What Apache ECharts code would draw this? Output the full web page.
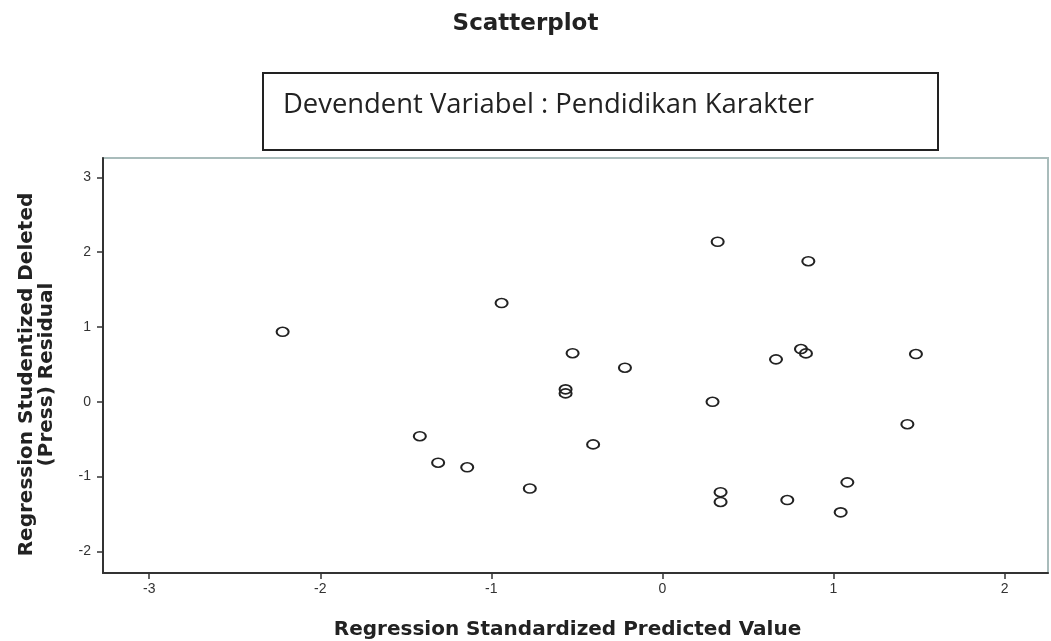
<!DOCTYPE html>
<html>
<head>
<meta charset="utf-8">
<script src="https://cdn.jsdelivr.net/npm/echarts@6/dist/echarts.min.js"></script>
<style>
html,body{margin:0;padding:0;background:#fff;}
#chart{width:1051px;height:641px;}
</style>
</head>
<body>
<div id="chart"></div>
<script>
// Data
const predictedValue = [-2.22, -0.94, -0.525, -0.566, -0.566, -0.219, 0.293, -1.418, -1.311, -1.141, -0.405, -0.775,
  0.323, 0.853, 0.664, 0.81, 0.839, 1.482, 1.432, 0.34, 0.34, 0.73, 1.081, 1.042];
const deletedResidual = [0.936, 1.32, 0.65, 0.166, 0.112, 0.455, 0.0, -0.46, -0.815, -0.877, -0.57, -1.16,
  2.14, 1.88, 0.567, 0.705, 0.647, 0.638, -0.30, -1.21, -1.34, -1.314, -1.078, -1.479];
const xTicks = [-3, -2, -1, 0, 1, 2];
const yTicks = [-2, -1, 0, 1, 2, 3];

const chartTitle = 'Scatterplot';
const subTitle = 'Devendent Variabel : Pendidikan Karakter';
const xName = 'Regression Standardized Predicted Value';
const yName = 'Regression Studentized Deleted\n(Press) Residual';

const points = predictedValue.map((x, i) => [x, deletedResidual[i]]);

const chart = echarts.init(document.getElementById('chart'), null, {renderer: 'canvas'});
chart.setOption({
  backgroundColor: '#ffffff',
  animation: false,
  title: {
    text: chartTitle,
    left: 'center',
    top: 8,
    textStyle: {fontFamily: 'DejaVu Sans', fontWeight: 'bold', fontSize: 23, color: '#222'}
  },
  graphic: [
    {
      type: 'rect',
      left: 262, top: 72,
      shape: {width: 675, height: 77},
      style: {fill: '#fff', stroke: '#222', lineWidth: 2}
    },
    {
      type: 'text',
      left: 283, top: 92,
      style: {text: subTitle, fontFamily: 'Open Sans', fontSize: 27.4, fill: '#222'}
    }
  ],
  grid: {
    left: 103, right: 3, top: 158, bottom: 68,
    outerBoundsMode: 'none',
    containLabel: false,
    show: true, borderColor: '#a9bcbb', borderWidth: 2, backgroundColor: '#fff'
  },
  xAxis: {
    type: 'value',
    min: -3.27, max: 2.254,
    name: xName,
    nameLocation: 'middle',
    nameGap: 47,
    nameTextStyle: {fontFamily: 'DejaVu Sans', fontWeight: 'bold', fontSize: 20, color: '#222', padding: [0, 16, 0, 0]},
    axisLine: {show: true, onZero: false, lineStyle: {color: '#333', width: 2}},
    axisTick: {show: true, length: 6, customValues: xTicks, lineStyle: {color: '#333', width: 1.5}},
    axisLabel: {customValues: xTicks, fontFamily: 'Liberation Sans', fontSize: 14, color: '#333', margin: 9},
    splitLine: {show: false}
  },
  yAxis: {
    type: 'value',
    min: -2.29, max: 3.26,
    name: yName,
    nameLocation: 'middle',
    nameRotate: 90,
    nameGap: 46,
    nameTextStyle: {fontFamily: 'DejaVu Sans', fontWeight: 'bold', fontSize: 20, color: '#222', lineHeight: 20, align: 'center', padding: [0, 18, 0, 0]},
    axisLine: {show: true, onZero: false, lineStyle: {color: '#333', width: 2}},
    axisTick: {show: true, length: 6, customValues: yTicks, lineStyle: {color: '#333', width: 1.5}},
    axisLabel: {customValues: yTicks, fontFamily: 'Liberation Sans', fontSize: 14, color: '#333', margin: 12},
    splitLine: {show: false}
  },
  series: [{
    type: 'scatter',
    data: points,
    symbol: 'circle',
    symbolSize: [12, 9],
    itemStyle: {color: 'rgba(255,255,255,0)', borderColor: '#222', borderWidth: 1.8, opacity: 1}
  }]
});
</script>
</body>
</html>
